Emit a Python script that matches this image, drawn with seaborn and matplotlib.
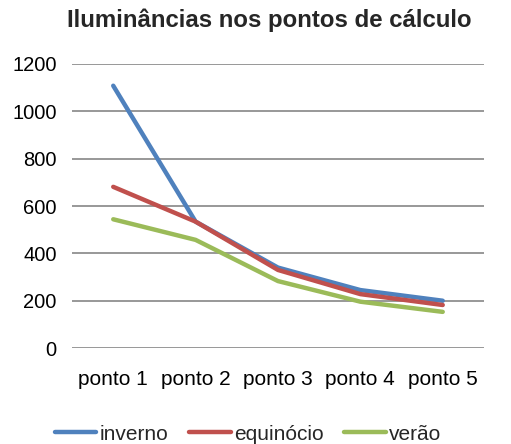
import matplotlib
matplotlib.use("Agg")
import matplotlib.pyplot as plt
import seaborn as sns
import pandas as pd

# Dados
pontos = ["ponto 1", "ponto 2", "ponto 3", "ponto 4", "ponto 5"]
inverno = [1108, 534, 340, 245, 200]
equinocio = [681, 534, 330, 228, 182]
verao = [544, 457, 283, 196, 153]

df = pd.DataFrame({
    "ponto": pontos * 3,
    "lux": inverno + equinocio + verao,
    "estacao": ["inverno"] * 5 + ["equinócio"] * 5 + ["verão"] * 5,
})

sns.set_style("white")
plt.rcParams["font.family"] = ["Liberation Sans", "DejaVu Sans"]

fig = plt.figure(figsize=(5.11, 4.44), dpi=100)
ax = fig.add_axes([0.141, 0.216, 0.806, 0.640])

cores = {"inverno": "#4F81BD", "equinócio": "#C0504D", "verão": "#9BBB59"}
sns.lineplot(data=df, x="ponto", y="lux", hue="estacao", palette=cores,
             linewidth=3.2, ax=ax, sort=False)

ax.set_ylim(0, 1200)
ax.set_yticks(range(0, 1201, 200))
ax.set_xlim(-0.5, 4.5)
ax.yaxis.grid(True, color="#868686", linewidth=1.2)
ax.set_axisbelow(True)
for s in ax.spines.values():
    s.set_visible(False)
ax.tick_params(axis="y", length=0, labelsize=14.5, colors="black", pad=11)
ax.tick_params(axis="x", length=0, labelsize=15, colors="black", pad=16)
ax.set_xlabel("")
ax.set_ylabel("")

fig.suptitle("Iluminâncias nos pontos de cálculo", fontsize=17.3, fontweight="bold",
             x=0.527, y=0.98)

ax.get_legend().remove()
h, l = ax.get_legend_handles_labels()
fig.legend(h, l, loc="center", bbox_to_anchor=(0.485, 0.022), ncol=3, frameon=False,
           fontsize=15, handlelength=2.0, handletextpad=0.15, columnspacing=1.0)

fig.savefig("out.png", dpi=100)
